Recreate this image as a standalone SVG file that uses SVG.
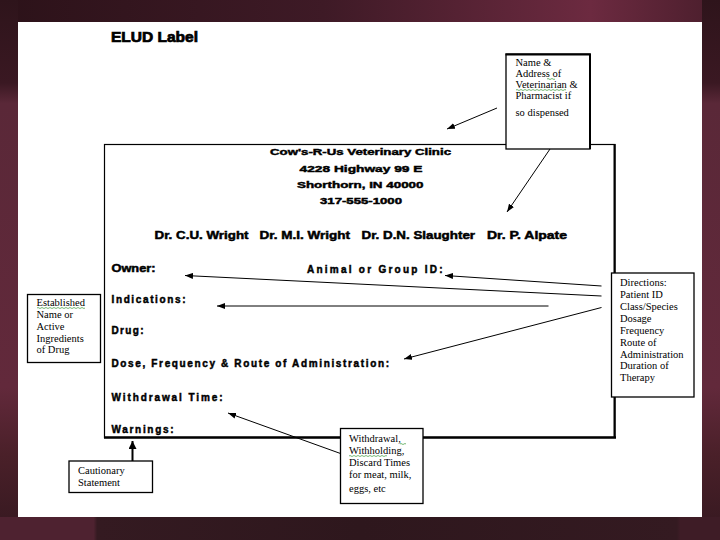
<svg xmlns="http://www.w3.org/2000/svg" width="720" height="540" viewBox="0 0 720 540">
<defs>
<linearGradient id="topg" x1="0" y1="0" x2="1" y2="0">
<stop offset="0" stop-color="#2c1219"/>
<stop offset="0.45" stop-color="#3e1a26"/>
<stop offset="0.82" stop-color="#6c2a40"/>
<stop offset="1" stop-color="#4a1e2c"/>
</linearGradient>
<linearGradient id="sideg" x1="0" y1="0" x2="0" y2="1">
<stop offset="0" stop-color="#2e141b"/>
<stop offset="0.16" stop-color="#3a1822"/>
<stop offset="0.2" stop-color="#5a2838"/>
<stop offset="0.75" stop-color="#62293b"/>
<stop offset="0.88" stop-color="#4a2029"/>
<stop offset="1" stop-color="#3a1a22"/>
</linearGradient>
<linearGradient id="botg" x1="0" y1="0" x2="1" y2="0">
<stop offset="0" stop-color="#4e2230"/>
<stop offset="0.13" stop-color="#4e2230"/>
<stop offset="0.135" stop-color="#341a21"/>
<stop offset="0.5" stop-color="#2e171d"/>
<stop offset="0.94" stop-color="#341a21"/>
<stop offset="0.945" stop-color="#3e1c26"/>
<stop offset="1" stop-color="#3e1c26"/>
</linearGradient>
<marker id="ah" viewBox="0 0 8 6" refX="8" refY="3" markerWidth="8" markerHeight="6" markerUnits="userSpaceOnUse" orient="auto">
<path d="M0,0 L8,3 L0,6 z" fill="#000"/>
</marker>
<marker id="ahb" viewBox="0 0 8 8" refX="8" refY="4" markerWidth="8" markerHeight="8" markerUnits="userSpaceOnUse" orient="auto">
<path d="M0,0 L8,4 L0,8 z" fill="#000"/>
</marker>
</defs>
<style>
.lbl{font-family:"Liberation Sans",Arial,sans-serif;font-weight:bold;font-size:10px;fill:#000;stroke:#000;stroke-width:0.45}
.clin{font-family:"Liberation Sans",Arial,sans-serif;font-weight:bold;font-size:9.5px;fill:#000;stroke:#000;stroke-width:0.45}
.note{font-family:"Liberation Serif","Times New Roman",serif;font-size:10.5px;fill:#000}
.box{fill:#fff;stroke:#000;stroke-width:1.3}
.con{stroke:#000;stroke-width:1;fill:none}
.sq{stroke:#3c9a3c;stroke-width:0.7;fill:none}
</style>
<!-- background -->
<rect x="0" y="0" width="720" height="540" fill="#3a1a22"/>
<rect x="0" y="0" width="720" height="22" fill="url(#topg)"/>
<rect x="0" y="0" width="18" height="517" fill="url(#sideg)"/>
<rect x="702" y="0" width="18" height="517" fill="url(#sideg)"/>
<rect x="0" y="517" width="720" height="23" fill="url(#botg)"/>
<rect x="18" y="22" width="684" height="495" fill="#fff"/>

<text id="title" x="111" y="41.5" style="font-family:'Liberation Sans',Arial,sans-serif;font-weight:900;font-size:14px;stroke:#000;stroke-width:0.7" textLength="87" lengthAdjust="spacingAndGlyphs">ELUD Label</text>

<g id="label">
<rect x="104.5" y="144.5" width="510.5" height="293" fill="#fff" stroke="#000" stroke-width="1.2"/>
<line x1="104" y1="437.5" x2="616" y2="437.5" stroke="#000" stroke-width="2.5"/>
<line x1="614.5" y1="144" x2="614.5" y2="438" stroke="#000" stroke-width="2"/>
<text class="clin" x="270" y="155" textLength="181" lengthAdjust="spacingAndGlyphs">Cow's-R-Us Veterinary Clinic</text>
<text class="clin" x="299.5" y="172" textLength="123" lengthAdjust="spacingAndGlyphs">4228 Highway 99 E</text>
<text class="clin" x="297" y="188" textLength="126.5" lengthAdjust="spacingAndGlyphs">Shorthorn, IN 40000</text>
<text class="clin" x="320" y="203.5" textLength="82" lengthAdjust="spacingAndGlyphs">317-555-1000</text>
<text class="lbl" x="154.5" y="238.5" textLength="94" lengthAdjust="spacingAndGlyphs">Dr. C.U. Wright</text>
<text class="lbl" x="259.5" y="238.5" textLength="90.5" lengthAdjust="spacingAndGlyphs">Dr. M.I. Wright</text>
<text class="lbl" x="361.5" y="238.5" textLength="113.5" lengthAdjust="spacingAndGlyphs">Dr. D.N. Slaughter</text>
<text class="lbl" x="487" y="238.5" textLength="80" lengthAdjust="spacingAndGlyphs">Dr. P. Alpate</text>
<text class="lbl" x="111.5" y="271.5" textLength="44" lengthAdjust="spacingAndGlyphs">Owner:</text>
<text class="lbl" x="307" y="272.5" textLength="135.5" lengthAdjust="spacing">Animal or Group ID:</text>
<text class="lbl" x="111.5" y="302.5" textLength="74" lengthAdjust="spacing">Indications:</text>
<text class="lbl" x="111.5" y="334" textLength="32" lengthAdjust="spacing">Drug:</text>
<text class="lbl" x="111.5" y="367" textLength="277.5" lengthAdjust="spacing">Dose, Frequency &amp; Route of Administration:</text>
<text class="lbl" x="111.5" y="401" textLength="111" lengthAdjust="spacing">Withdrawal Time:</text>
<text class="lbl" x="111.5" y="432.5" textLength="62" lengthAdjust="spacing">Warnings:</text>
</g>

<g id="connectors">
<line class="con" x1="497" y1="108" x2="447" y2="129" marker-end="url(#ah)"/>
<line class="con" x1="550" y1="149" x2="507" y2="212" marker-end="url(#ah)"/>
<line class="con" x1="601.5" y1="286" x2="445" y2="275.5" marker-end="url(#ah)"/>
<line class="con" x1="601.5" y1="296" x2="185" y2="275.5" marker-end="url(#ah)"/>
<line class="con" x1="548.5" y1="306" x2="217" y2="306" marker-end="url(#ah)"/>
<line class="con" x1="601.5" y1="307.5" x2="404" y2="359" marker-end="url(#ah)"/>
<line class="con" x1="340.5" y1="453.5" x2="228" y2="413" marker-end="url(#ah)"/>
<line x1="132.5" y1="461" x2="132.5" y2="441" stroke="#000" stroke-width="2" marker-end="url(#ahb)"/>
</g>

<g id="name-address">
<rect class="box" x="506" y="54" width="84" height="95"/>
<line x1="505.5" y1="54.5" x2="591" y2="54.5" stroke="#000" stroke-width="2"/>
<line x1="590" y1="54" x2="590" y2="149" stroke="#000" stroke-width="2"/>
<text class="note" x="515.5" y="66">Name &amp;</text>
<text class="note" x="515.5" y="77">Address of</text>
<text class="note" x="515.5" y="88">Veterinarian &amp;</text>
<text class="note" x="515.5" y="99">Pharmacist if</text>
<text class="note" x="515.5" y="116">so dispensed</text>
<path class="sq" d="M547,79 q1,-1 2,0 t2,0 t2,0 t2,0"/>
<path class="sq" d="M516,90 q1,-1 2,0 t2,0 t2,0 t2,0 t2,0 t2,0 t2,0 t2,0 t2,0 t2,0 t2,0 t2,0 t2,0 t2,0 t2,0 t2,0 t2,0 t2,0 t2,0 t2,0 t2,0 t2,0 t2,0 t2,0 t2,0"/>
</g>

<g id="established">
<rect class="box" x="27.5" y="294.5" width="73" height="68"/>
<text class="note" x="36.5" y="306">Established</text>
<text class="note" x="36.5" y="317.5">Name or</text>
<text class="note" x="36.5" y="330">Active</text>
<text class="note" x="36.5" y="341.5">Ingredients</text>
<text class="note" x="36.5" y="353">of Drug</text>
<path class="sq" d="M37,308 q1,-1 2,0 t2,0 t2,0 t2,0 t2,0 t2,0 t2,0 t2,0 t2,0 t2,0 t2,0 t2,0 t2,0 t2,0 t2,0 t2,0 t2,0 t2,0 t2,0 t2,0 t2,0 t2,0 t2,0 t2,0"/>
</g>

<g id="directions">
<rect class="box" x="611.5" y="273" width="82.5" height="124"/>
<text class="note" x="620" y="286">Directions:</text>
<text class="note" x="620" y="298">Patient ID</text>
<text class="note" x="620" y="309.5">Class/Species</text>
<text class="note" x="620" y="321.5">Dosage</text>
<text class="note" x="620" y="333.5">Frequency</text>
<text class="note" x="620" y="345.5">Route of</text>
<text class="note" x="620" y="357.5">Administration</text>
<text class="note" x="620" y="369">Duration of</text>
<text class="note" x="620" y="381">Therapy</text>
</g>

<g id="cautionary">
<rect class="box" x="69" y="461" width="83.5" height="31.5"/>
<text class="note" x="78" y="474">Cautionary</text>
<text class="note" x="78" y="485.5">Statement</text>
</g>

<g id="withdrawal">
<rect class="box" x="340.5" y="428.5" width="82.5" height="75"/>
<text class="note" x="349" y="442">Withdrawal,</text>
<text class="note" x="349" y="454">Withholding,</text>
<text class="note" x="349" y="465.5">Discard Times</text>
<text class="note" x="349" y="478">for meat, milk,</text>
<text class="note" x="349" y="492">eggs, etc</text>
<path class="sq" d="M400,444 q1,-1 2,0 t2,0 t2,0"/>
<path class="sq" d="M349,456 q1,-1 2,0 t2,0 t2,0 t2,0 t2,0 t2,0 t2,0 t2,0 t2,0 t2,0 t2,0 t2,0 t2,0 t2,0 t2,0 t2,0 t2,0 t2,0 t2,0"/>
</g>
</svg>
